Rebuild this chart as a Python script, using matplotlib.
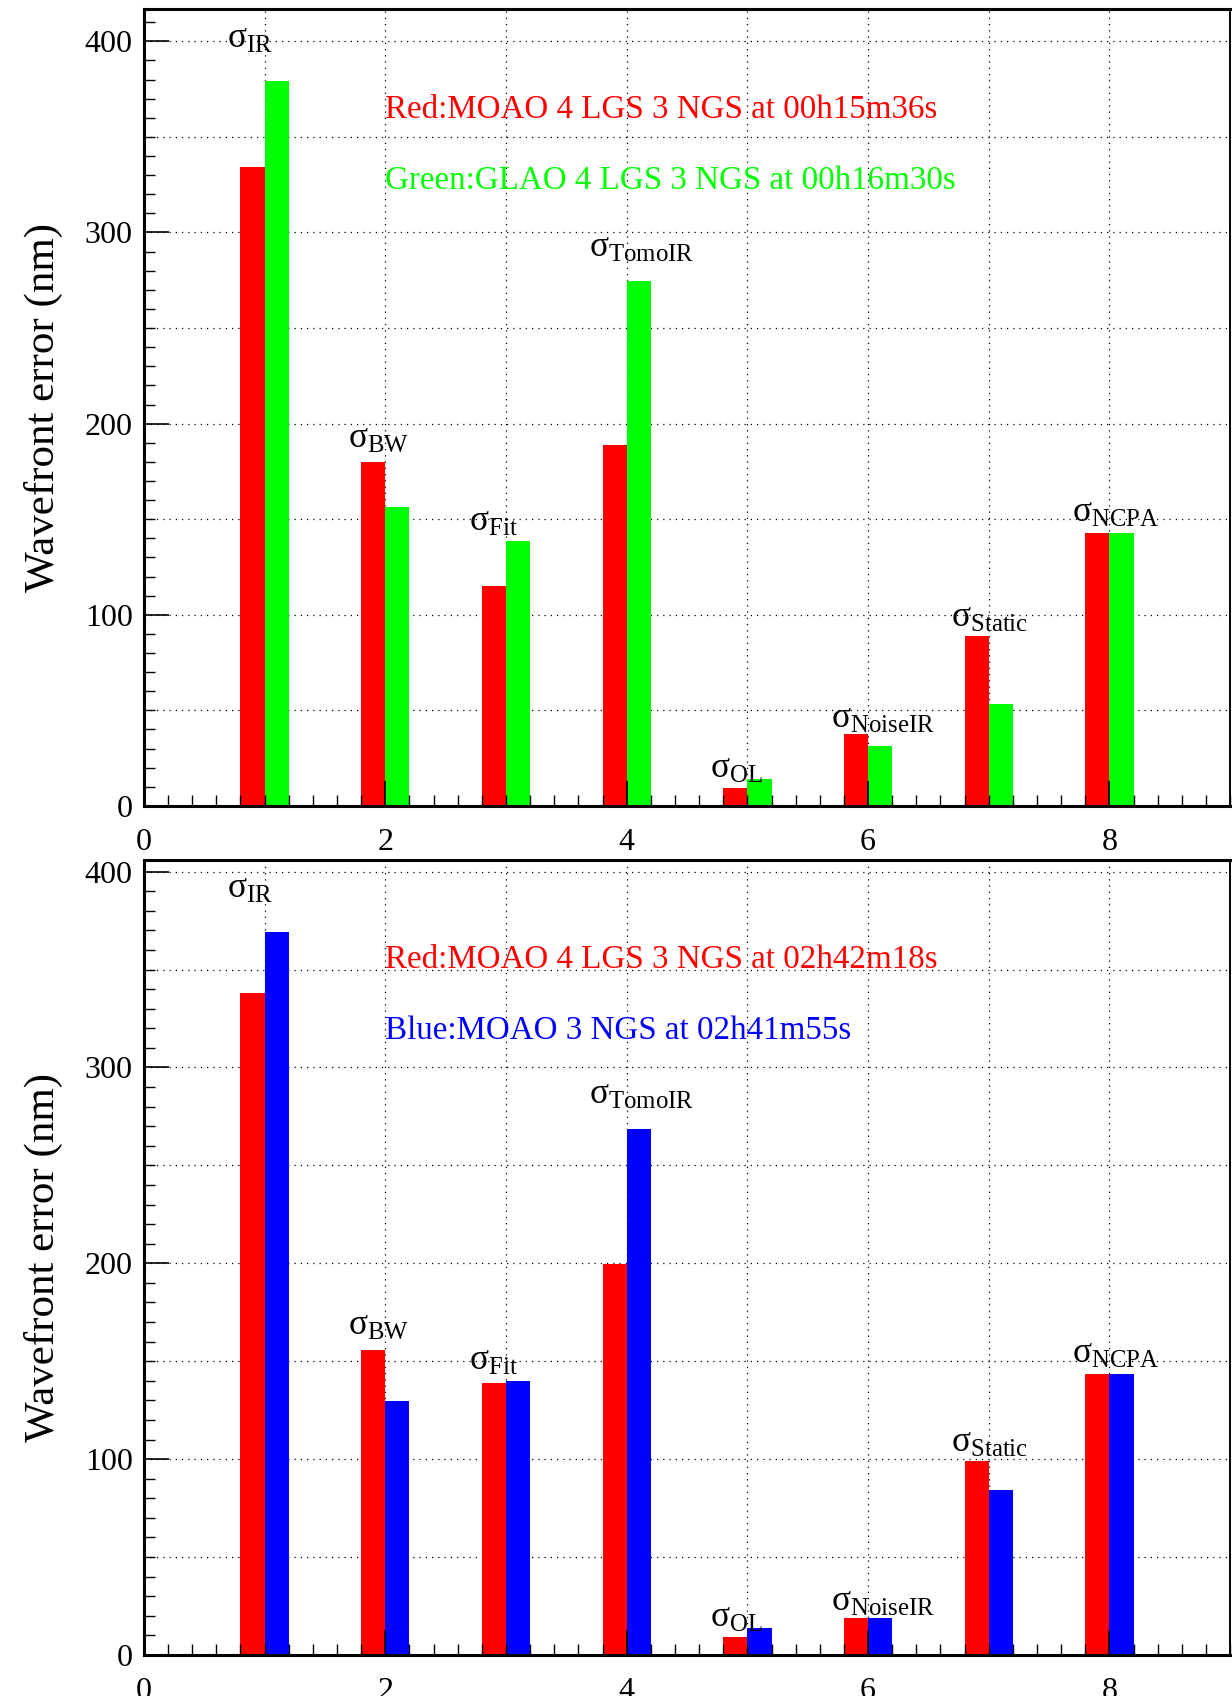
import numpy as np
import matplotlib
matplotlib.use("Agg")
import matplotlib.pyplot as plt
from matplotlib.ticker import MultipleLocator


# error budget terms (bins 1..8)
terms = ["IR", "BW", "Fit", "TomoIR", "OL", "NoiseIR", "Static", "NCPA"]
bins = np.arange(1, 9)

# top panel: MOAO vs GLAO
moao_top = [334, 180, 115, 189, 9.6, 37.4, 89, 143]
glao_top = [379, 156.6, 138.4, 274.6, 14.2, 31.2, 53.3, 143]

# bottom panel: MOAO 4 LGS vs MOAO 3 NGS
moao_bot = [338, 155.8, 138.7, 199.4, 9.4, 18.8, 98.9, 143.6]
ngs_bot = [369, 129.8, 139.8, 268.5, 13.8, 18.8, 84, 143.6]

# height of the sigma labels above the tallest bar of each pair
label_gap = [22, 12, 10, 17, 5, 8, 9, 10]

top_text = ["Red:MOAO 4 LGS 3 NGS at 00h15m36s", "Green:GLAO 4 LGS 3 NGS at 00h16m30s"]
bot_text = ["Red:MOAO 4 LGS 3 NGS at 02h42m18s", "Blue:MOAO 3 NGS at 02h41m55s"]

RED = "#ff0000"
GREEN = "#00ff00"
BLUE = "#0000ff"

plt.rcParams["font.family"] = ["Liberation Serif", "DejaVu Serif"]
plt.rcParams["mathtext.fontset"] = "custom"
plt.rcParams["mathtext.rm"] = "Liberation Serif"
plt.rcParams["mathtext.it"] = "Liberation Serif"


def panel(ax, red, other, other_color, texts):
    w = 0.2
    ax.bar(bins - w / 2, red, width=w, color=RED, linewidth=0)
    ax.bar(bins + w / 2, other, width=w, color=other_color, linewidth=0)

    ymax = 1.1 * max(max(red), max(other))
    ax.set_xlim(0, 9)
    ax.set_ylim(0, ymax)

    # ROOT-like axes
    ax.xaxis.set_major_locator(MultipleLocator(2))
    ax.xaxis.set_minor_locator(MultipleLocator(0.2))
    ax.yaxis.set_major_locator(MultipleLocator(100))
    ax.yaxis.set_minor_locator(MultipleLocator(10))
    ax.tick_params(which="both", direction="in", top=False, right=False)
    ax.tick_params(which="major", length=18, width=1.2, labelsize=23)
    ax.tick_params(which="minor", length=8, width=1.0)
    ax.tick_params(axis="x", pad=16)
    ax.tick_params(axis="y", pad=8)
    for s in ax.spines.values():
        s.set_linewidth(2.2)
    ax.spines["right"].set_linewidth(1.4)

    # dotted grid at every integer in x and every 50 in y
    for gx in np.arange(1, 9):
        ax.axvline(gx, color="black", lw=0.9, ls=(0, (1, 4)), zorder=0.5)
    for gy in np.arange(50, ymax, 50):
        ax.axhline(gy, color="black", lw=0.9, ls=(0, (1, 4)), zorder=0.5)

    ax.set_ylabel("Wavefront error (nm)", fontsize=31, labelpad=16)

    for i, t in enumerate(terms):
        top = max(red[i], other[i])
        ax.text(bins[i] - 0.31, top + label_gap[i], r"$\mathrm{σ}_{\mathrm{%s}}$" % t,
                fontsize=25.5, ha="left", va="center", zorder=5)

    ax.text(2.0, ymax * 0.874, texts[0], color=RED, fontsize=23.8, va="center")
    ax.text(2.0, ymax * 0.785, texts[1], color=other_color, fontsize=23.8, va="center")


fig = plt.figure(figsize=(12.32, 16.96), dpi=100)
ax1 = fig.add_axes([0.1168, 0.5248, 0.8817, 0.4699])
ax2 = fig.add_axes([0.1168, 0.0242, 0.8817, 0.4687])

panel(ax1, moao_top, glao_top, GREEN, top_text)
panel(ax2, moao_bot, ngs_bot, BLUE, bot_text)

fig.savefig("out.png", dpi=100)
